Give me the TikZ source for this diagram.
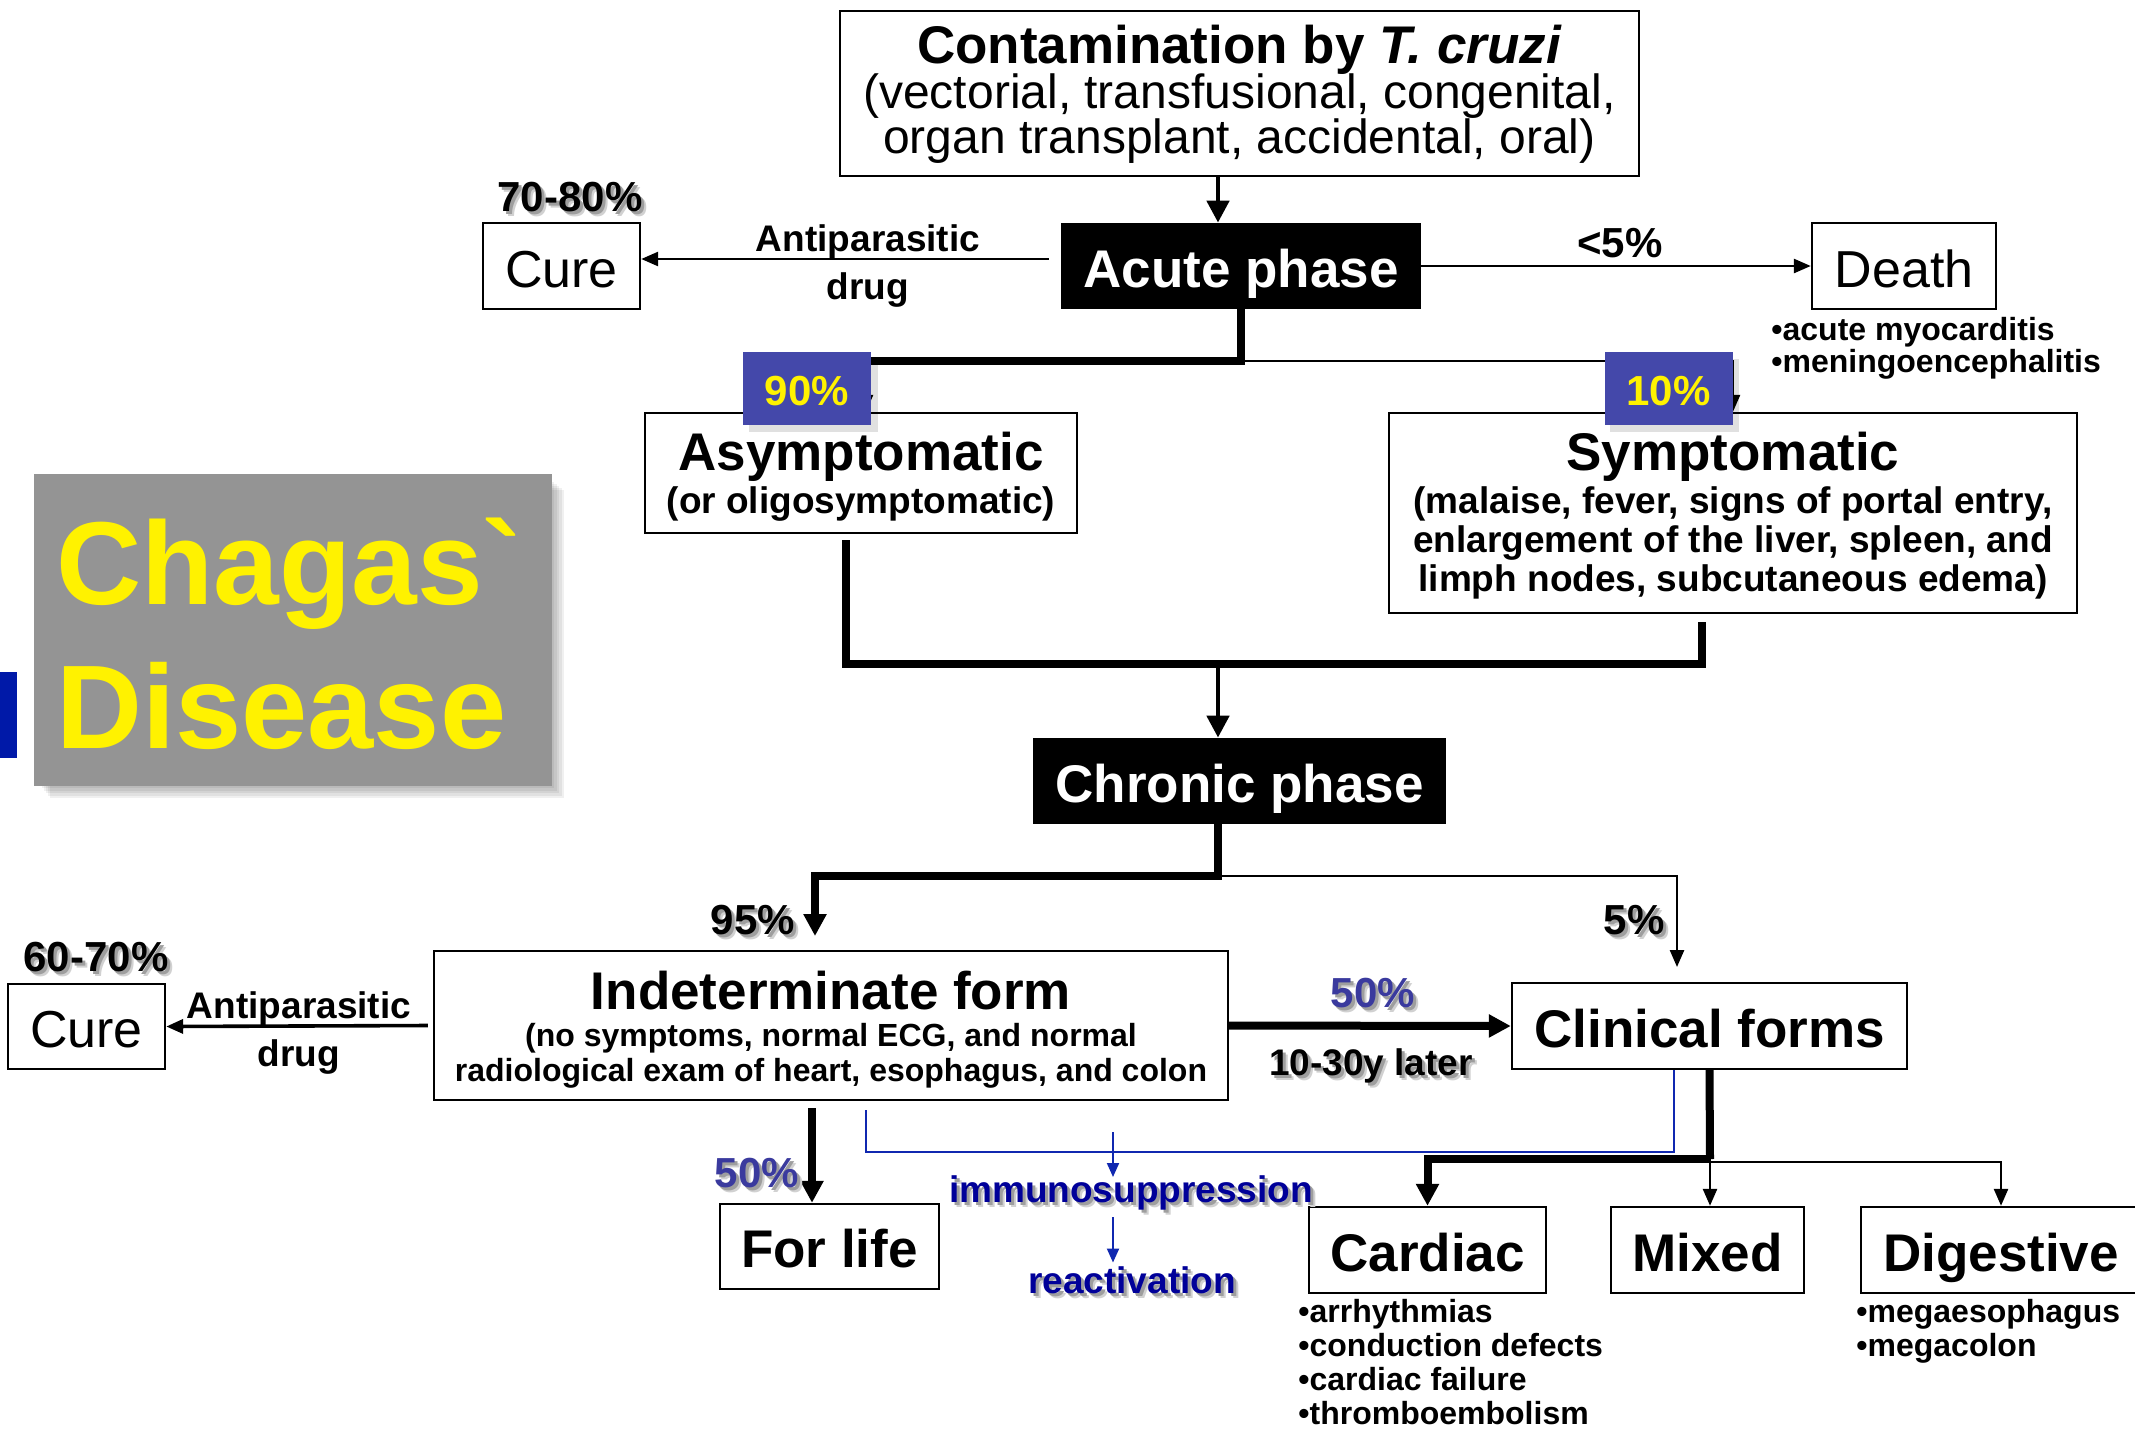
\documentclass[tikz,border=0pt]{standalone}
\usepackage{fontspec}
\newfontfamily\af{Liberation Sans}
\usetikzlibrary{arrows.meta,calc}
\definecolor{badge}{HTML}{4448AA}
\definecolor{pctblue}{HTML}{3A3A9E}
\definecolor{navy}{HTML}{000099}
\definecolor{linkblue}{HTML}{1028B0}
\definecolor{barblue}{HTML}{0019A8}
\definecolor{titlegray}{HTML}{949494}
\newcommand\fsz[2]{\fontsize{#1}{#2}\selectfont\lineskiplimit=-100pt\relax}
% text with a soft drop shadow behind it
\newcommand\shadowtext[1]{%
  \rlap{\kern2.5pt\raisebox{-2.5pt}{\color{black!18}#1}}%
  \rlap{\kern1.5pt\raisebox{-1.5pt}{\color{black!38}#1}}#1}
\begin{document}
\begin{tikzpicture}[x=0.5pt,y=-0.5pt,
  box/.style={draw=black,line width=1.2pt,fill=white,inner sep=0pt,align=center},
  oneline/.style={text height=21pt,text depth=0pt},
  blackbox/.style={fill=black,text=white,inner sep=0pt,align=center,oneline,font=\af\bfseries\fsz{26.5}{28}},
  big/.style={font=\af\bfseries\fsz{26.5}{28},oneline},
  reg/.style={font=\af\fsz{26}{28},oneline},
  pct/.style={font=\af\bfseries\fsz{21}{22},inner sep=0pt},
  note/.style={font=\af\bfseries\fsz{18.5}{23.8},inner sep=0pt,align=center},
  bullets/.style={font=\af\bfseries\fsz{16}{16},inner sep=0pt,align=left,anchor=north west},
  badgebox/.style={fill=badge,text=yellow,font=\af\bfseries\fsz{21}{22},inner sep=0pt,
    minimum width=64pt,minimum height=36.5pt,text height=17.3pt,text depth=0pt},
  thin/.style={line width=1.3pt},
  mid/.style={line width=2.4pt},
  thick/.style={line width=4pt},
  tipS/.style={-{Triangle[length=8.5pt,width=7pt]}},
  tipL/.style={-{Triangle[length=11pt,width=11pt]}},
  bluelink/.style={draw=linkblue,line width=1pt},
  tipB/.style={-{Triangle[length=7pt,width=6pt]}},
]
\useasboundingbox (0,0) rectangle (2135,1430);
\fill[white] (0,0) rectangle (2135,1430);

% ---- title panel ----
\fill[barblue] (0,672) rectangle (17,758);
\foreach \k in {0,...,5}
  \fill[black,opacity=.06] (40+\k*2,480+\k*2) rectangle (552+\k*2.4,786+\k*2.4);
\node[fill=titlegray,minimum width=259pt,minimum height=156pt,inner sep=0pt] (ttlbox) at (293,630) {};
\node[anchor=base west,inner sep=0pt,text=yellow,font=\af\bfseries\fsz{59}{60}] (ttl1) at (56,604) {Chagas`};
\node[anchor=base west,inner sep=0pt,text=yellow,font=\af\bfseries\fsz{59.5}{60}] (ttl2) at (56,748) {Disease};

% ---- boxes ----
\node[box,minimum width=399.5pt,minimum height=82.5pt,font=\af\fsz{24}{22.5}] (cont) at (1239.5,93.5)
  {{\bfseries\fsz{26.5}{22.5}\rule{0pt}{19.65pt}Contamination by \textit{T. cruzi}}\\[-0.15pt](vectorial, transfusional, congenital,\\organ transplant, accidental, oral)};
\node[blackbox,minimum width=180pt,minimum height=43pt] (acute) at (1241,266) {Acute phase};
\node[box,reg,minimum width=78.5pt,minimum height=43pt] (cure1) at (561.5,266) {Cure};
\node[box,reg,minimum width=92pt,minimum height=43pt] (death) at (1904,266) {Death};
\node[box,minimum width=216pt,minimum height=60pt,font=\af\bfseries\fsz{18.5}{21.6}] (asym) at (861,473)
  {{\fsz{26.5}{21.6}\rule{0pt}{22.7pt}Asymptomatic}\\(or oligosymptomatic)};
\node[box,minimum width=344pt,minimum height=100pt,font=\af\bfseries\fsz{18.5}{19.5}] (sym) at (1733,513)
  {{\fsz{26.5}{19.5}\rule{0pt}{21.8pt}Symptomatic}\\[2pt](malaise, fever, signs of portal entry,\\enlargement of the liver, spleen, and\\limph nodes, subcutaneous edema)};
\node[blackbox,minimum width=206.5pt,minimum height=43pt] (chronic) at (1239.5,781) {Chronic phase};
\node[box,minimum width=397pt,minimum height=74.5pt,font=\af\bfseries\fsz{16}{17.5}] (indet) at (831,1025.5)
  {{\fsz{26.5}{17.5}\rule{0pt}{23.4pt}Indeterminate form}\\[0.9pt](no symptoms, normal ECG, and normal\\radiological exam of heart, esophagus, and colon};
\node[box,reg,minimum width=78.5pt,minimum height=42.5pt] (cure2) at (86.5,1026.5) {Cure};
\node[box,big,minimum width=197.5pt,minimum height=43pt] (clin) at (1709.5,1026) {Clinical forms};
\node[box,big,minimum width=109.5pt,minimum height=42.5pt] (forlife) at (829.5,1246.5) {For life};
\node[box,big,minimum width=118.5pt,minimum height=43pt] (cardiac) at (1427.5,1250) {Cardiac};
\node[box,big,minimum width=96.5pt,minimum height=43pt] (mixed) at (1707.5,1250) {Mixed};
\node[box,big,minimum width=140pt,minimum height=43pt] (digest) at (2001,1250) {Digestive};

% ---- connectors ----
\coordinate (xa) at (1218,0);
\draw[mid,tipL] (cont.south -| xa) -- (acute.north -| xa);
\draw[thin,tipS] ([shift={(-12,-7)}]acute.west) -- ([yshift=3.5pt]cure1.east);
\draw[thin,tipS] (acute.east) -- (death.west);

\coordinate (ax) at (866,361);
\coordinate (sx) at (1733,361);
\draw[thin,tipS] (acute.south |- sx) -- (sx) -- (sym.north);
\draw[thick] (acute.south) |- (ax);
\draw[thin,tipS] (ax) -- (ax |- asym.north);

\coordinate (jL) at (846,664);
\coordinate (jR) at (1702,664);
\draw[thick] ([yshift=-3pt]asym.south -| jL) -- (jL) -- (jR) -- ([yshift=-4pt]sym.south -| jR);
\draw[mid,tipL] (jL -| xa) -- (chronic.north -| xa);

\coordinate (cL) at (815,876);
\coordinate (t95) at (815,936);
\coordinate (c5) at (1218,876);
\coordinate (t5) at (1677,967);
\draw[thin,tipS] (c5) -| (t5);
\draw[thick,tipL] (chronic.south -| xa) |- (cL) -- (t95);

\draw[line width=1.8pt,tipS] ([xshift=-2.5pt]indet.west) -- (cure2.east);
\draw[thick,tipL] (indet.east) -- (clin.west);

\coordinate (fx) at (812,0);
\draw[thick,tipL] ([yshift=-3.5pt]indet.south -| fx) -- (forlife.north -| fx);

\coordinate (bL) at (866,1152);
\coordinate (bR) at (1674,1152);
\draw[bluelink] ([yshift=-4.5pt]indet.south -| bL) -- (bL) -- (bR) -- (clin.south -| bR);

\coordinate (k) at (1710,1159);
\coordinate (kr) at (1710,1162);
\draw[thin,tipS] (kr) -| (digest.north);
\draw[thin,tipS] (k) -- (k |- mixed.north);
\draw[thick] (clin.south) -- (k);
\draw[thick,tipL] (k) -| (cardiac.north);

% ---- percentage badges ----
\fill[black,opacity=.12] (749,359) rectangle (878,432);
\fill[black,opacity=.12] (1610,359) rectangle (1739,432);
\node[badgebox] (b90) at (807,388.5) {90\%};
\node[badgebox] (b10) at (1668.5,388.5) {10\%};

% ---- labels ----
\node[pct] (p7080) at (570,200) {\shadowtext{70-80\%}};
\node[note] (ap1) at (868,266) {Antiparasitic\\drug};
\node[pct] (p5a) at (1620,243) {<5\%};
\node[bullets] (dbul) at (1771,317) {•acute myocarditis\\•meningoencephalitis};
\node[pct] (p95) at (753,923) {\shadowtext{95\%}};
\node[pct] (p5) at (1634,923) {\shadowtext{5\%}};
\node[pct] (p6070) at (96,960) {\shadowtext{60-70\%}};
\node[note] (ap2) at (299,1033) {Antiparasitic\\drug};
\node[pct,text=pctblue] (p50a) at (1373,996) {\shadowtext{50\%}};
\node[note] (later) at (1371,1068) {\shadowtext{10-30y later}};
\node[pct,text=pctblue] (p50b) at (757,1176) {\shadowtext{50\%}};
\node[note,text=navy] (immuno) at (1131,1195) {\shadowtext{immunosuppression}};
\node[note,text=navy] (react) at (1132,1283) {\shadowtext{reactivation}};
\coordinate (i1) at (1113,1132);
\coordinate (i2) at (1113,1177);
\draw[bluelink,tipB] (i1) -- (i2);
\draw[bluelink,tipB] ([yshift=-1pt]immuno.south -| i1) -- ([yshift=2pt]react.north -| i1);
\node[bullets,font=\af\bfseries\fsz{16}{16.9}] (cbul) at (1298,1299) {•arrhythmias\\•conduction defects\\•cardiac failure\\•thromboembolism};
\node[bullets,font=\af\bfseries\fsz{16}{16.9}] (gbul) at (1856,1299) {•megaesophagus\\•megacolon};
\end{tikzpicture}
\end{document}
